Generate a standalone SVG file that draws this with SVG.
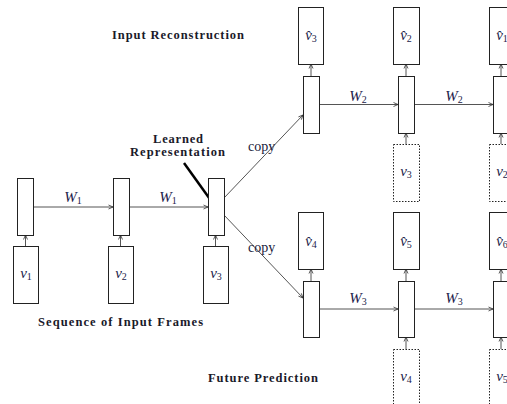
<svg xmlns="http://www.w3.org/2000/svg" width="507" height="404" viewBox="0 0 507 404">
<defs>
<marker id="ah" markerWidth="6" markerHeight="6" refX="5" refY="3" orient="auto" markerUnits="userSpaceOnUse">
<path d="M0.5,1 L5,3 L0.5,5" fill="none" stroke="#333" stroke-width="0.8"/>
</marker>
<style>
.box{fill:#fff;stroke:#222;stroke-width:1}
.dbox{fill:#fff;stroke:#222;stroke-width:1;stroke-dasharray:1.5,1.5}
.conn{stroke:#555;stroke-width:1;fill:none;marker-end:url(#ah)}
.title{font-family:"Liberation Serif",serif;font-weight:bold;font-size:12.5px;fill:#1a1a2a}
.copy{font-family:"Liberation Serif",serif;font-size:14px;fill:#1a1a3a}
.m{font-family:"Liberation Serif",serif;font-style:italic;font-size:15px;fill:#22224a;text-anchor:middle}
.s{font-size:10px;font-style:normal}
</style>
</defs>
<rect width="507" height="404" fill="#fff"/>

<g id="connectors">
<line class="conn" x1="33" y1="207" x2="113" y2="207"/>
<line class="conn" x1="129" y1="207" x2="208" y2="207"/>
<line class="conn" x1="25.5" y1="246" x2="25.5" y2="235"/>
<line class="conn" x1="120.5" y1="246" x2="120.5" y2="235"/>
<line class="conn" x1="215.5" y1="246" x2="215.5" y2="235"/>
<line class="conn" x1="224" y1="198" x2="303" y2="115"/>
<line class="conn" x1="224" y1="215" x2="303" y2="298"/>
<line class="conn" x1="319" y1="104.5" x2="398" y2="104.5"/>
<line class="conn" x1="414" y1="104.5" x2="493" y2="104.5"/>
<line class="conn" x1="311" y1="76" x2="311" y2="64"/>
<line class="conn" x1="406" y1="76" x2="406" y2="64"/>
<line class="conn" x1="501" y1="76" x2="501" y2="64"/>
<line class="conn" x1="406" y1="144" x2="406" y2="133"/>
<line class="conn" x1="501" y1="144" x2="501" y2="133"/>
<line class="conn" x1="319" y1="309" x2="398" y2="309"/>
<line class="conn" x1="414" y1="309" x2="493" y2="309"/>
<line class="conn" x1="311" y1="281" x2="311" y2="269"/>
<line class="conn" x1="406" y1="281" x2="406" y2="269"/>
<line class="conn" x1="501" y1="281" x2="501" y2="269"/>
<line class="conn" x1="406" y1="349" x2="406" y2="337"/>
<line class="conn" x1="501" y1="349" x2="501" y2="337"/>
<line x1="184" y1="163" x2="212" y2="202" stroke="#000" stroke-width="2.5"/>
</g>

<g id="enc1"><rect class="box" x="17.5" y="178.5" width="16" height="57"/></g>
<g id="enc2"><rect class="box" x="113.5" y="178.5" width="16" height="57"/></g>
<g id="enc3"><rect class="box" x="208.5" y="178.5" width="16" height="57"/></g>
<g id="in1"><rect class="box" x="13.5" y="246.5" width="25" height="57"/><text class="m" x="26" y="278">v<tspan class="s" dy="2">1</tspan></text></g>
<g id="in2"><rect class="box" x="108.5" y="246.5" width="25" height="57"/><text class="m" x="121" y="278">v<tspan class="s" dy="2">2</tspan></text></g>
<g id="in3"><rect class="box" x="203.5" y="246.5" width="25" height="57"/><text class="m" x="216" y="278">v<tspan class="s" dy="2">3</tspan></text></g>

<g id="rec1"><rect class="box" x="303.5" y="76.5" width="16" height="57"/></g>
<g id="rec2"><rect class="box" x="398.5" y="76.5" width="16" height="57"/></g>
<g id="rec3"><rect class="box" x="493.5" y="76.5" width="16" height="57"/></g>
<g id="out3"><rect class="box" x="298.5" y="7.5" width="25" height="57"/><text class="m" x="311" y="40">v̂<tspan class="s" dy="2">3</tspan></text></g>
<g id="out2"><rect class="box" x="393.5" y="7.5" width="26" height="57"/><text class="m" x="406" y="40">v̂<tspan class="s" dy="2">2</tspan></text></g>
<g id="out1"><rect class="box" x="489.5" y="7.5" width="26" height="57"/><text class="m" x="502" y="40">v̂<tspan class="s" dy="2">1</tspan></text></g>
<g id="rin3"><rect class="dbox" x="393.5" y="144.5" width="26" height="57"/><text class="m" x="406" y="176">v<tspan class="s" dy="2">3</tspan></text></g>
<g id="rin2"><rect class="dbox" x="489.5" y="144.5" width="26" height="57"/><text class="m" x="502" y="176">v<tspan class="s" dy="2">2</tspan></text></g>

<g id="pre1"><rect class="box" x="303.5" y="281.5" width="16" height="56"/></g>
<g id="pre2"><rect class="box" x="398.5" y="281.5" width="16" height="56"/></g>
<g id="pre3"><rect class="box" x="493.5" y="281.5" width="16" height="56"/></g>
<g id="out4"><rect class="box" x="298.5" y="212.5" width="25" height="57"/><text class="m" x="311" y="246">v̂<tspan class="s" dy="2">4</tspan></text></g>
<g id="out5"><rect class="box" x="393.5" y="212.5" width="26" height="57"/><text class="m" x="406" y="246">v̂<tspan class="s" dy="2">5</tspan></text></g>
<g id="out6"><rect class="box" x="489.5" y="212.5" width="26" height="57"/><text class="m" x="502" y="246">v̂<tspan class="s" dy="2">6</tspan></text></g>
<g id="pin4"><rect class="dbox" x="393.5" y="349.5" width="26" height="60"/><text class="m" x="406" y="381">v<tspan class="s" dy="2">4</tspan></text></g>
<g id="pin5"><rect class="dbox" x="489.5" y="349.5" width="26" height="60"/><text class="m" x="502" y="381">v<tspan class="s" dy="2">5</tspan></text></g>

<g id="labels">
<text class="m" x="73" y="202">W<tspan class="s" dy="2">1</tspan></text>
<text class="m" x="168" y="202">W<tspan class="s" dy="2">1</tspan></text>
<text class="m" x="358" y="101">W<tspan class="s" dy="2">2</tspan></text>
<text class="m" x="454" y="101">W<tspan class="s" dy="2">2</tspan></text>
<text class="m" x="358" y="303">W<tspan class="s" dy="2">3</tspan></text>
<text class="m" x="454" y="303">W<tspan class="s" dy="2">3</tspan></text>
<text class="copy" x="248" y="151">copy</text>
<text class="copy" x="248" y="252">copy</text>
<text class="title" x="112" y="39" textLength="132" lengthAdjust="spacing">Input Reconstruction</text>
<text class="title" x="153" y="143" textLength="50" lengthAdjust="spacing">Learned</text>
<text class="title" x="130" y="156" textLength="95" lengthAdjust="spacing">Representation</text>
<text class="title" x="38" y="326" textLength="165" lengthAdjust="spacing">Sequence of Input Frames</text>
<text class="title" x="208" y="382" textLength="110" lengthAdjust="spacing">Future Prediction</text>
</g>
</svg>
